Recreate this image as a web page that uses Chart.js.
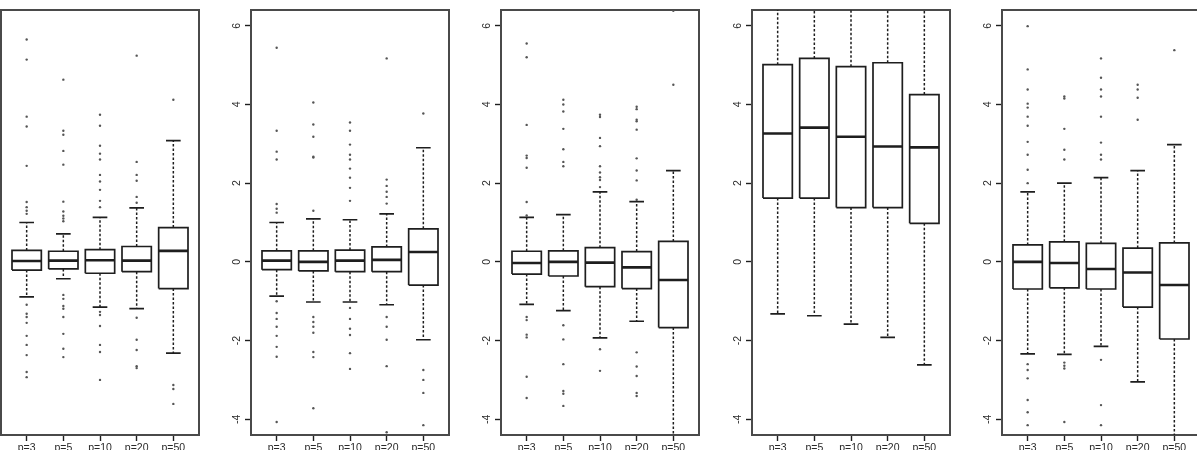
<!DOCTYPE html>
<html>
<head>
<meta charset="utf-8">
<script src="https://cdn.jsdelivr.net/npm/chart.js@4.4.1/dist/chart.umd.min.js"></script>
<style>
  html, body { margin: 0; padding: 0; background: #fff; }
  body { width: 1197px; height: 450px; overflow: hidden; position: relative; }
  .panel { position: absolute; top: 0; }
</style>
</head>
<body>
<script>
// ---------------- data ----------------
const categories = ['p=3', 'p=5', 'p=10', 'p=20', 'p=50'];
const yTickValues = [-4, -2, 0, 2, 4, 6];

// panel 1
const p1Low  = [-0.89, -0.43, -1.15, -1.19, -2.32];
const p1Q1   = [-0.21, -0.18, -0.29, -0.25, -0.68];
const p1Med  = [0.02, 0.03, 0.04, 0.03, 0.28];
const p1Q3   = [0.29, 0.27, 0.31, 0.39, 0.87];
const p1High = [1.0, 0.71, 1.13, 1.37, 3.08];
const p1Out  = [
  [5.65, 5.14, 3.69, 3.44, 2.44, 1.52, 1.39, 1.3, 1.22, -1.09, -1.32, -1.4, -1.55, -1.88, -2.11, -2.37, -2.8, -2.93],
  [4.63, 3.33, 3.23, 2.82, 2.47, 1.53, 1.28, 1.17, 1.1, 1.03, -0.84, -0.94, -1.12, -1.19, -1.4, -1.83, -2.21, -2.42],
  [3.74, 3.46, 2.95, 2.75, 2.6, 2.21, 2.04, 1.83, 1.55, 1.39, -1.27, -1.35, -1.63, -2.11, -2.29, -3.0],
  [5.24, 2.54, 2.21, 2.06, 1.65, 1.5, -1.42, -1.98, -2.24, -2.65, -2.7],
  [4.12, -3.13, -3.23, -3.61]
];

// panel 2
const p2Low  = [-0.87, -1.02, -1.02, -1.09, -1.98];
const p2Q1   = [-0.2, -0.23, -0.25, -0.25, -0.59];
const p2Med  = [0.03, 0.0, 0.03, 0.05, 0.25];
const p2Q3   = [0.28, 0.28, 0.3, 0.38, 0.84];
const p2High = [1.0, 1.09, 1.07, 1.22, 2.9];
const p2Out  = [
  [5.44, 3.33, 2.8, 2.6, 1.47, 1.35, 1.25, -1.0, -1.3, -1.45, -1.65, -1.88, -2.16, -2.41, -4.07],
  [4.05, 3.49, 3.18, 2.67, 2.65, 1.3, -1.4, -1.53, -1.65, -1.8, -2.29, -2.42, -3.72],
  [3.54, 3.33, 2.98, 2.72, 2.6, 2.37, 2.14, 1.88, 1.55, -1.17, -1.45, -1.7, -1.86, -2.32, -2.72],
  [5.17, 2.09, 1.93, 1.78, 1.65, 1.48, -1.4, -1.65, -1.98, -2.65, -4.33],
  [3.77, -2.75, -3.0, -3.33, -4.15]
];

// panel 3
const p3Low  = [-1.08, -1.24, -1.93, -1.51, -5.0];
const p3Q1   = [-0.31, -0.36, -0.63, -0.68, -1.67];
const p3Med  = [-0.03, 0.0, -0.02, -0.14, -0.46];
const p3Q3   = [0.27, 0.28, 0.36, 0.26, 0.52];
const p3High = [1.13, 1.2, 1.78, 1.53, 2.32];
const p3Out  = [
  [5.55, 5.2, 3.48, 2.7, 2.64, 2.39, 1.52, 1.18, -1.4, -1.48, -1.85, -1.92, -2.92, -3.46],
  [4.12, 4.0, 3.82, 3.38, 2.86, 2.54, 2.43, -1.61, -1.97, -2.6, -3.28, -3.35, -3.66],
  [3.74, 3.68, 3.15, 2.94, 2.43, 2.27, 2.15, 2.08, 1.9, -2.22, -2.77],
  [3.94, 3.88, 3.61, 3.57, 3.36, 2.63, 2.32, 2.07, 1.58, -2.3, -2.66, -2.9, -3.33, -3.41],
  [6.38, 4.5]
];

// panel 4
const p4Low  = [-1.32, -1.37, -1.58, -1.92, -2.62];
const p4Q1   = [1.62, 1.62, 1.38, 1.38, 0.98];
const p4Med  = [3.26, 3.41, 3.18, 2.93, 2.91];
const p4Q3   = [5.01, 5.17, 4.96, 5.06, 4.25];
const p4High = [7.5, 7.5, 7.5, 7.5, 7.5];
const p4Out  = [[], [], [], [], []];

// panel 5
const p5Low  = [-2.34, -2.35, -2.15, -3.05, -5.0];
const p5Q1   = [-0.69, -0.66, -0.69, -1.15, -1.96];
const p5Med  = [0.0, -0.03, -0.18, -0.27, -0.59];
const p5Q3   = [0.43, 0.51, 0.47, 0.35, 0.48];
const p5High = [1.78, 2.0, 2.14, 2.32, 2.98];
const p5Out  = [
  [5.99, 4.89, 4.38, 4.02, 3.92, 3.69, 3.46, 3.05, 2.72, 2.34, 2.0, -2.6, -2.75, -2.96, -3.51, -3.82, -4.15],
  [4.2, 4.15, 3.38, 2.85, 2.6, -2.56, -2.64, -2.71, -4.07],
  [5.17, 4.68, 4.38, 4.2, 3.69, 3.03, 2.72, 2.6, -2.49, -3.64, -4.15],
  [4.5, 4.38, 4.17, 3.61],
  [5.38]
];

// ---------------- rendering ----------------
const panels = [
  [p1Low, p1Q1, p1Med, p1Q3, p1High, p1Out],
  [p2Low, p2Q1, p2Med, p2Q3, p2High, p2Out],
  [p3Low, p3Q1, p3Med, p3Q3, p3High, p3Out],
  [p4Low, p4Q1, p4Med, p4Q3, p4High, p4Out],
  [p5Low, p5Q1, p5Med, p5Q3, p5High, p5Out]
];

const PLOT_LEFTS = [1, 251, 501, 752, 1002];
const PLOT_W = 198;
const AXIS_W = 60;
const CANVAS_H = 470;
const PLOT_TOP = 10;
const PLOT_BOTTOM = 435;
const BOX_HALF = 0.4;
const CAP_HALF = 0.2;
const INK = '#1e1e1e';
const FRAME = '#4a4a4a';
const FONT = { family: '"Liberation Sans", Arial, sans-serif', size: 10.5 };

const GAP = { x: null, y: null };

function buildDatasets(low, q1, med, q3, high, out) {
  const boxes = [], medians = [], whiskers = [], caps = [], outliers = [];
  categories.forEach((c, k) => {
    const x = k + 1;
    boxes.push({ x: x - BOX_HALF, y: q1[k] }, { x: x + BOX_HALF, y: q1[k] },
               { x: x + BOX_HALF, y: q3[k] }, { x: x - BOX_HALF, y: q3[k] },
               { x: x - BOX_HALF, y: q1[k] }, GAP);
    medians.push({ x: x - BOX_HALF, y: med[k] }, { x: x + BOX_HALF, y: med[k] }, GAP);
    whiskers.push({ x, y: q3[k] }, { x, y: high[k] }, GAP, { x, y: q1[k] }, { x, y: low[k] }, GAP);
    caps.push({ x: x - CAP_HALF, y: high[k] }, { x: x + CAP_HALF, y: high[k] }, GAP,
              { x: x - CAP_HALF, y: low[k] }, { x: x + CAP_HALF, y: low[k] }, GAP);
    out[k].forEach(v => outliers.push({ x, y: v }));
  });
  const seg = (data, width, dash) => ({
    data, showLine: true, spanGaps: false, pointRadius: 0, borderColor: INK,
    borderWidth: width, borderDash: dash || [], backgroundColor: 'transparent',
    borderCapStyle: 'butt', tension: 0
  });
  return [
    seg(whiskers, 1.5, [2.5, 2]),
    seg(caps, 1.7),
    seg(boxes, 1.7),
    seg(medians, 2.6),
    { data: outliers, showLine: false, pointRadius: 1.2, pointBorderWidth: 0,
      pointBackgroundColor: '#555', pointBorderColor: '#555' }
  ];
}

panels.forEach((p, i) => {
  const canvas = document.createElement('canvas');
  const cw = AXIS_W + PLOT_W + 4;
  canvas.width = cw;
  canvas.height = CANVAS_H;
  canvas.className = 'panel';
  canvas.style.left = (PLOT_LEFTS[i] - AXIS_W) + 'px';
  canvas.style.width = cw + 'px';
  canvas.style.height = CANVAS_H + 'px';
  document.body.appendChild(canvas);

  new Chart(canvas, {
    type: 'scatter',
    data: { datasets: buildDatasets(...p) },
    options: {
      responsive: false,
      animation: false,
      devicePixelRatio: 1,
      layout: { padding: { top: PLOT_TOP, left: 0, right: 4, bottom: 0 } },
      plugins: { legend: { display: false }, tooltip: { enabled: false } },
      scales: {
        x: {
          type: 'linear', position: 'bottom', min: 0.3, max: 5.7,
          afterBuildTicks: s => { s.ticks = categories.map((c, k) => ({ value: k + 1 })); },
          afterFit: s => { s.height = CANVAS_H - PLOT_BOTTOM; },
          ticks: { callback: v => categories[v - 1], font: FONT, color: '#2a2a2a',
                   padding: 1, maxRotation: 0, minRotation: 0, autoSkip: false },
          grid: { display: true, drawOnChartArea: false, drawTicks: true, tickLength: 6,
                  tickWidth: 1.4, tickColor: INK, color: INK },
          border: { display: true, color: FRAME, width: 2 }
        },
        y: {
          type: 'linear', position: 'left', min: -4.4, max: 6.4,
          afterBuildTicks: s => { s.ticks = yTickValues.map(v => ({ value: v })); },
          afterFit: s => { s.width = AXIS_W; },
          ticks: { font: FONT, color: '#2a2a2a', minRotation: 90, maxRotation: 90,
                   crossAlign: 'center', padding: 3 },
          grid: { display: true, drawOnChartArea: false, drawTicks: true, tickLength: 6,
                  tickWidth: 1.4, tickColor: INK, color: INK },
          border: { display: true, color: FRAME, width: 2 }
        },
        x2: {
          type: 'linear', position: 'top', min: 0.3, max: 5.7,
          afterFit: s => { s.height = 0; },
          ticks: { display: false }, grid: { display: false },
          border: { display: true, color: FRAME, width: 2 }
        },
        y2: {
          type: 'linear', position: 'right', min: -4.4, max: 6.4,
          afterFit: s => { s.width = 0; },
          ticks: { display: false }, grid: { display: false },
          border: { display: true, color: FRAME, width: 2 }
        }
      }
    }
  });
});
</script>
</body>
</html>
